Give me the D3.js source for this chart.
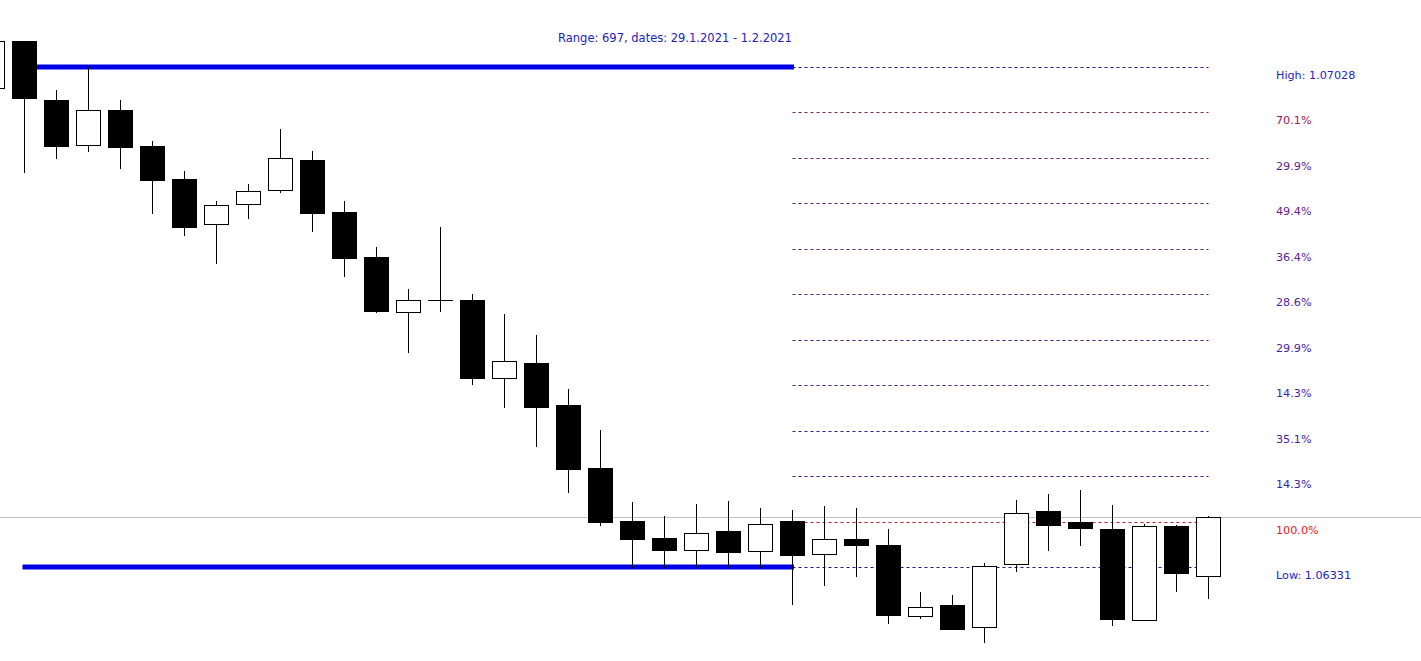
<!DOCTYPE html>
<html>
<head>
<meta charset="utf-8">
<script src="https://cdn.jsdelivr.net/npm/d3@7"></script>
<style>
  html, body { margin: 0; padding: 0; background: #ffffff; overflow: hidden; }
  svg { display: block; }
</style>
</head>
<body>
<svg id="chart" width="1421" height="661"></svg>
<script>
// ---- data (candle index -1 is the partially visible bar at the left edge) ----
const barIndex = d3.range(-1, 38);
const opens  = [1.06999,1.07064,1.06982,1.06919,1.06968,1.06918,1.06872,1.06809,1.06837,1.06856,
                1.06898,1.06826,1.06763,1.06687,1.06703,1.06703,1.06595,1.06615,1.06557,1.06469,
                1.06395,1.06371,1.06355,1.06381,1.06353,1.06395,1.06349,1.06370,1.06362,1.06262,
                1.06278,1.06247,1.06335,1.06409,1.06394,1.06384,1.06257,1.06388,1.06319];
const highs  = [1.07064,1.07064,1.06996,1.07028,1.06982,1.06925,1.06883,1.06841,1.06865,1.06942,
                1.06911,1.06841,1.06777,1.06719,1.06805,1.06712,1.06684,1.06654,1.06579,1.06522,
                1.06422,1.06402,1.06419,1.06423,1.06413,1.06410,1.06416,1.06413,1.06384,1.06296,
                1.06292,1.06336,1.06425,1.06433,1.06438,1.06417,1.06391,1.06389,1.06402];
const lows   = [1.06999,1.06881,1.06901,1.06911,1.06887,1.06825,1.06794,1.06755,1.06818,1.06854,
                1.06800,1.06736,1.06687,1.06631,1.06688,1.06586,1.06554,1.06500,1.06436,1.06389,
                1.06331,1.06331,1.06332,1.06332,1.06331,1.06280,1.06306,1.06319,1.06253,1.06260,
                1.06245,1.06227,1.06326,1.06355,1.06362,1.06250,1.06257,1.06297,1.06288];
const closes = [1.07064,1.06985,1.06918,1.06968,1.06917,1.06870,1.06805,1.06835,1.06855,1.06901,
                1.06825,1.06762,1.06688,1.06703,1.06703,1.06595,1.06618,1.06554,1.06468,1.06394,
                1.06370,1.06355,1.06379,1.06352,1.06391,1.06348,1.06370,1.06362,1.06264,1.06275,
                1.06245,1.06333,1.06406,1.06389,1.06386,1.06258,1.06388,1.06323,1.06401];

const rangeHigh = 1.07028, rangeLow = 1.06331;
const titleText = "Range: 697, dates: 29.1.2021 - 1.2.2021";
const levelPrices = [1.07028,1.069646,1.069013,1.068379,1.067745,1.067112,1.066478,1.065845,1.065211,1.064577,1.063944,1.06331];
const levelLabels = ["High: 1.07028","70.1%","29.9%","49.4%","36.4%","28.6%","29.9%","14.3%","35.1%","14.3%","100.0%","Low: 1.06331"];
const levelLineColors  = ["#1a1a8c","#80204c","#6a1a70","#5a1a78","#521a80","#4a1a84","#461a88","#3e1a8c","#3a1a8e","#341a90","#c02020","#1a1a8c"];
const levelLabelColors = ["#2424c0","#9a2050","#5a1e96","#681e8e","#5a1e98","#501ea0","#4a1ea4","#421ea8","#4a1ea0","#3a1eac","#e02024","#2424c0"];
const lastPrice = 1.06401;
const rangeStartBar = 0, rangeEndBar = 24, levelEndBar = 37;

// ---- scales ----
const x = d3.scaleLinear().domain([0, 37]).range([24.5, 1208.5]);
const y = d3.scaleLinear().domain([rangeLow, rangeHigh]).range([567, 67]);
const svg = d3.select("#chart");
const W = 1421;
const bodyW = 25;

const candles = barIndex.map((b, i) => ({ b, o: opens[i], h: highs[i], l: lows[i], c: closes[i] }));

// current price line
svg.append("line")
  .attr("x1", 0).attr("x2", W)
  .attr("y1", Math.round(y(lastPrice)) + 0.5).attr("y2", Math.round(y(lastPrice)) + 0.5)
  .attr("stroke", "#c0c0c0").attr("stroke-width", 1);

// dashed level lines
svg.append("g").selectAll("line").data(levelPrices).join("line")
  .attr("x1", x(rangeEndBar)).attr("x2", x(levelEndBar))
  .attr("y1", d => Math.round(y(d)) + 0.5).attr("y2", d => Math.round(y(d)) + 0.5)
  .attr("stroke", (d, i) => levelLineColors[i])
  .attr("stroke-width", 1)
  .attr("stroke-dasharray", "3,3");

// thick blue high/low lines
svg.append("g").selectAll("line").data([rangeHigh, rangeLow]).join("line")
  .attr("x1", x(rangeStartBar) - 2).attr("x2", x(rangeEndBar) + 1.5)
  .attr("y1", d => y(d)).attr("y2", d => y(d))
  .attr("stroke", "#0000e6").attr("stroke-width", 5);

// candles
const g = svg.append("g");
g.selectAll("line.wick").data(candles).join("line")
  .attr("class", "wick")
  .attr("x1", d => x(d.b)).attr("x2", d => x(d.b))
  .attr("y1", d => Math.round(y(d.h))).attr("y2", d => Math.round(y(d.l)) + 1)
  .attr("stroke", "#000").attr("stroke-width", 1);

g.selectAll("g.body").data(candles).join(function(enter) {
  const gg = enter.append("g").attr("class", "body");
  gg.each(function(d) {
    const el = d3.select(this);
    const top = Math.round(y(Math.max(d.o, d.c)));
    const bot = Math.round(y(Math.min(d.o, d.c)));
    const left = x(d.b) - bodyW / 2;
    if (d.o === d.c) {
      el.append("line")
        .attr("x1", left).attr("x2", left + bodyW)
        .attr("y1", top + 0.5).attr("y2", top + 0.5)
        .attr("stroke", "#000").attr("stroke-width", 1);
    } else if (d.c < d.o) {
      el.append("rect")
        .attr("x", left).attr("y", top)
        .attr("width", bodyW).attr("height", Math.max(1, bot - top + 1))
        .attr("fill", "#000");
    } else {
      el.append("rect")
        .attr("x", left + 0.5).attr("y", top + 0.5)
        .attr("width", bodyW - 1).attr("height", Math.max(1, bot - top))
        .attr("fill", "#fff").attr("stroke", "#000").attr("stroke-width", 1);
    }
  });
  return gg;
});

// level labels
svg.append("g").selectAll("text").data(levelPrices).join("text")
  .attr("x", 1276)
  .attr("y", d => y(d) + 12)
  .attr("fill", (d, i) => levelLabelColors[i])
  .attr("font-family", "DejaVu Sans, Verdana, sans-serif")
  .attr("font-size", "11.2px")
  .text((d, i) => levelLabels[i]);

// title
svg.append("text")
  .attr("x", 675).attr("y", 42)
  .attr("text-anchor", "middle")
  .attr("fill", "#2222b8")
  .attr("font-family", "DejaVu Sans, Verdana, sans-serif")
  .attr("font-size", "11.5px")
  .text(titleText);
</script>
</body>
</html>
